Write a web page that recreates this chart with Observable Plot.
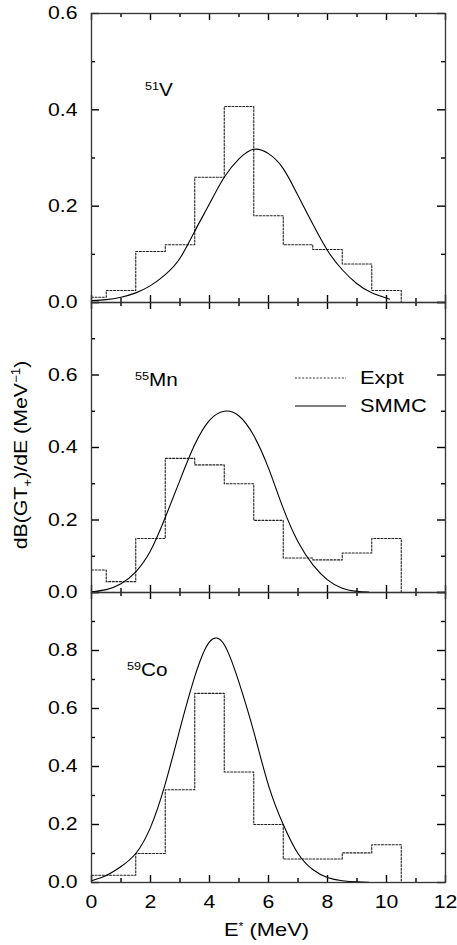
<!DOCTYPE html>
<html><head><meta charset="utf-8">
<script src="https://cdn.jsdelivr.net/npm/d3@7"></script>
<script src="https://cdn.jsdelivr.net/npm/@observablehq/plot@0.6"></script>
<style>
body{margin:0;background:#fff;}
#wrap{position:relative;width:457px;height:945px;overflow:hidden;font-family:"Liberation Sans",Arial,Helvetica,sans-serif;color:#000;}
.pp{position:absolute;left:0;}
.t{position:absolute;white-space:nowrap;font-size:18px;line-height:18px;transform-origin:0 0;transform:scaleX(1.15);}
.t sup{font-size:11px;vertical-align:6px;line-height:0;}
</style></head><body><div id="wrap"></div>
<script>
// ---- data ----
const binEdges = [0, 0.5, 1.5, 2.5, 3.5, 4.5, 5.5, 6.5, 7.5, 8.5, 9.5, 10.5];
const exptV  = [0.011, 0.025, 0.106, 0.12, 0.26, 0.407, 0.18, 0.12, 0.11, 0.08, 0.025];
const exptMn = [0.062, 0.030, 0.149, 0.370, 0.352, 0.300, 0.199, 0.095, 0.090, 0.109, 0.149];
const exptCo = [0.025, 0.025, 0.10, 0.32, 0.652, 0.381, 0.20, 0.081, 0.081, 0.102, 0.13];

const smmcVx = [0, 0.5, 1, 1.5, 2, 2.5, 3, 3.5, 4, 4.5, 5, 5.5, 6, 6.5, 7, 7.5, 8, 8.5, 9, 9.5, 10, 10.1];
const smmcVy = [0.004, 0.006, 0.011, 0.020, 0.035, 0.058, 0.092, 0.148, 0.205, 0.260, 0.298, 0.318, 0.309, 0.278, 0.222, 0.163, 0.108, 0.068, 0.039, 0.020, 0.009, 0.007];

const smmcMnx = [0, 0.5, 1, 1.5, 2, 2.5, 3, 3.5, 4, 4.5, 5, 5.5, 6, 6.5, 7, 7.5, 8, 8.5, 9, 9.4];
const smmcMny = [0.002, 0.008, 0.024, 0.057, 0.115, 0.207, 0.31, 0.408, 0.475, 0.50, 0.487, 0.433, 0.343, 0.232, 0.14, 0.077, 0.035, 0.012, 0.003, 0.001];

const smmcCox = [0, 0.5, 1, 1.5, 2, 2.5, 3, 3.5, 4, 4.5, 5, 5.5, 6, 6.5, 7, 7.5, 8, 8.5, 9, 9.4];
const smmcCoy = [0.006, 0.024, 0.055, 0.10, 0.19, 0.34, 0.53, 0.71, 0.83, 0.82, 0.69, 0.52, 0.335, 0.20, 0.10, 0.045, 0.017, 0.006, 0.002, 0.0005];

const xMajor = [0, 2, 4, 6, 8, 10, 12];
const xMinor = [1, 3, 5, 7, 9, 11];
const xLabels = [0, 2, 4, 6, 8, 10, 12];
const yMajor1 = [0, 0.2, 0.4, 0.6], yMinor1 = [0.1, 0.3, 0.5], yLabels1 = [0, 0.2, 0.4, 0.6];
const yMajor2 = [0, 0.2, 0.4, 0.6, 0.8], yMinor2 = [0.1, 0.3, 0.5, 0.7], yLabels2 = [0, 0.2, 0.4, 0.6];
const yMajor3 = [0, 0.2, 0.4, 0.6, 0.8, 1.0], yMinor3 = [0.1, 0.3, 0.5, 0.7, 0.9], yLabels3 = [0, 0.2, 0.4, 0.6, 0.8];

// ---- drawing ----
const wrap = document.getElementById("wrap");
const FONT = '"Liberation Sans", Arial, Helvetica, sans-serif';
const W = 457, ML = 91, MR = 12, PW = W - ML - MR;

function stepsOf(vals) {
  const s = [];
  vals.forEach((v, i) => { s.push({x: binEdges[i], y: v}); s.push({x: binEdges[i + 1], y: v}); });
  s.push({x: binEdges[binEdges.length - 1], y: 0});
  return s;
}

function panel({expt, cx, cy, yMax, yMajor, yMinor, yLabels, top, height, mt, mb, showX}) {
  const PH = height - mt - mb;
  const curve = cx.map((x, i) => ({x, y: cy[i]}));
  const tk = {stroke: "#000", strokeWidth: 1.4};
  const marks = [
    Plot.line(stepsOf(expt), {x: "x", y: "y", stroke: "#222", strokeWidth: 1.1, strokeDasharray: "2,1.6"}),
    Plot.line(curve, {x: "x", y: "y", curve: "natural", stroke: "#000", strokeWidth: 1.1}),
    // inward ticks, left and right
    Plot.tickY(yMajor, {y: d => d, insetRight: PW - 8, ...tk}),
    Plot.tickY(yMinor, {y: d => d, insetRight: PW - 4, ...tk}),
    Plot.tickY(yMajor, {y: d => d, insetLeft: PW - 8, ...tk}),
    Plot.tickY(yMinor, {y: d => d, insetLeft: PW - 4, ...tk}),
    // inward ticks, top and bottom
    Plot.tickX(xMajor, {x: d => d, insetBottom: PH - 7, ...tk}),
    Plot.tickX(xMinor, {x: d => d, insetBottom: PH - 4, ...tk}),
    Plot.tickX(xMajor, {x: d => d, insetTop: PH - 7, ...tk}),
    Plot.tickX(xMinor, {x: d => d, insetTop: PH - 4, ...tk}),
    Plot.axisY(yLabels, {anchor: "left", tickSize: 0, tickPadding: 14, tickFormat: d3.format(".1f"), label: null, fontSize: 18}),
    Plot.frame({stroke: "#333", strokeWidth: 1.3})
  ];
  if (showX) marks.push(Plot.text(xLabels, {x: d => d, frameAnchor: "bottom", lineAnchor: "top", dy: 13, text: d => String(d), fontSize: 18, fill: "#000"}));
  const svg = Plot.plot({
    width: W, height, marginLeft: ML, marginRight: MR, marginTop: mt, marginBottom: mb,
    x: {domain: [0, 12], axis: null},
    y: {domain: [0, yMax]},
    style: {fontFamily: FONT, fontSize: "18px", background: "none", overflow: "visible", color: "#000"},
    marks
  });
  svg.querySelectorAll('g[aria-label$="tick label"] text, g[aria-label="text"] text').forEach(t => {
    t.setAttribute("transform", (t.getAttribute("transform") || "") + " scale(1.18,1)");
  });
  const d = document.createElement("div");
  d.className = "pp"; d.style.top = top + "px";
  d.appendChild(svg);
  wrap.appendChild(d);
}

panel({expt: exptV, cx: smmcVx, cy: smmcVy, yMax: 0.6, yMajor: yMajor1, yMinor: yMinor1, yLabels: yLabels1, top: 0, height: 302, mt: 13, mb: 0});
panel({expt: exptMn, cx: smmcMnx, cy: smmcMny, yMax: 0.8, yMajor: yMajor2, yMinor: yMinor2, yLabels: yLabels2, top: 302, height: 290, mt: 0, mb: 0});
panel({expt: exptCo, cx: smmcCox, cy: smmcCoy, yMax: 1.0, yMajor: yMajor3, yMinor: yMinor3, yLabels: yLabels3, top: 592, height: 353, mt: 0, mb: 63, showX: true});

function addText(html, left, top, extra) {
  const d = document.createElement("div");
  d.className = "t"; d.innerHTML = html;
  d.style.left = left + "px"; d.style.top = top + "px";
  if (extra) Object.assign(d.style, extra);
  wrap.appendChild(d);
  return d;
}
// panel labels
addText("<sup>51</sup>V", 145, 81);
addText("<sup>55</sup>Mn", 135, 371);
addText("<sup>59</sup>Co", 127, 661);
// legend
const lg = document.createElementNS("http://www.w3.org/2000/svg", "svg");
lg.setAttribute("width", 60); lg.setAttribute("height", 40);
lg.style.position = "absolute"; lg.style.left = "292px"; lg.style.top = "368px";
lg.innerHTML = '<line x1="3" x2="54" y1="10" y2="10" stroke="#333" stroke-width="1.1" stroke-dasharray="2,1.6"/>' +
               '<line x1="3" x2="54" y1="38" y2="38" stroke="#000" stroke-width="1.2"/>';
wrap.appendChild(lg);
addText("Expt", 360, 369, {fontSize: "19px"});
addText("SMMC", 360, 397, {fontSize: "19px"});
// axis titles
addText("E<sup>*</sup> (MeV)", 224, 921, {fontSize: "19px"});
const yl = document.createElement("div");
yl.innerHTML = 'dB(GT<span style="font-size:12px;vertical-align:-5px;line-height:0">+</span>)/dE (MeV<span style="font-size:12px;vertical-align:7px;line-height:0">\u22121</span>)';
Object.assign(yl.style, {position: "absolute", left: "20px", top: "455px", whiteSpace: "nowrap", fontSize: "19px", lineHeight: "19px",
  transform: "translate(-50%,-50%) rotate(-90deg) scaleX(1.12)"});
wrap.appendChild(yl);
</script></body></html>
